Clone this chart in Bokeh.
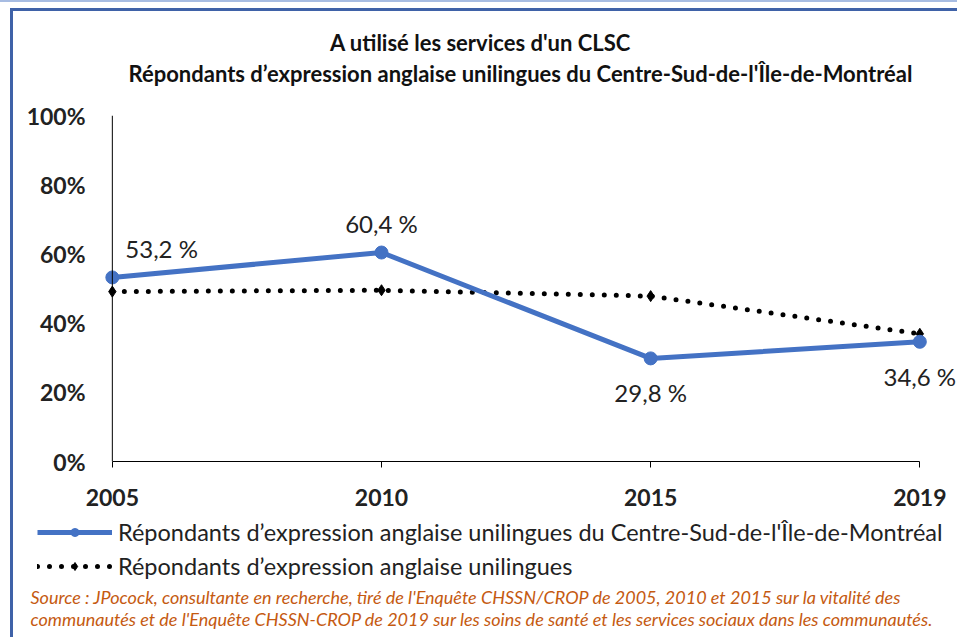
from bokeh.plotting import figure
from bokeh.layouts import column
from bokeh.models import (ColumnDataSource, LabelSet, Legend, LegendItem, Label,
                          FixedTicker, Span, Range1d)
from bokeh.core.properties import value
from bokeh.embed import file_html
from bokeh.resources import INLINE

years = ["2005", "2010", "2015", "2019"]
centre_sud = [53.2, 60.4, 29.8, 34.6]
unilingues = [49.1, 49.5, 47.8, 36.9]
centre_sud_labels = ["53,2 %", "60,4 %", "29,8 %", "34,6 %"]
y_ticks = [0, 20, 40, 60, 80, 100]
y_tick_labels = ["0%", "20%", "40%", "60%", "80%", "100%"]

title1 = "A utilisé les services d'un CLSC"
title2 = "Répondants d’expression anglaise unilingues du Centre-Sud-de-l'Île-de-Montréal"
legend1 = "Répondants d’expression anglaise unilingues du Centre-Sud-de-l'Île-de-Montréal"
legend2 = "Répondants d’expression anglaise unilingues"
source1 = "Source : JPocock, consultante en recherche, tiré de l'Enquête CHSSN/CROP de 2005, 2010 et 2015 sur la vitalité des"
source2 = "communautés et de l'Enquête CHSSN-CROP de 2019 sur les soins de santé et les services sociaux dans les communautés."

FONT = "Lato"
BLUE = "#4472C4"
TXT = "#222222"
W = 944


def blank(fig):
    fig.grid.visible = False
    fig.outline_line_color = None
    fig.background_fill_color = "white"
    fig.border_fill_color = "white"
    fig.frame_align = False


xs = list(range(len(years)))
src = ColumnDataSource(dict(x=xs, a=centre_sud, b=unilingues, lab=centre_sud_labels,
                            dx=[13, 0, 0, 0], dy=[29, 29, -34, -35],
                            al=["left", "center", "center", "center"]))

# ---------------- title band ----------------
t = figure(width=W, height=89, output_backend="svg", toolbar_location=None,
           x_range=Range1d(0, 1), y_range=Range1d(0, 1),
           x_axis_location=None, y_axis_location=None,
           min_border_left=0, min_border_right=0, min_border_top=0, min_border_bottom=0)
blank(t)
for txt, xx, yy in zip([title1, title2], [467, 507], [58, 27]):
    t.add_layout(Label(x=xx, y=yy, x_units="screen", y_units="screen", text=txt,
                       text_font=FONT, text_font_style="bold", text_font_size="22px",
                       text_color="#111111", text_align="center", text_baseline="middle"))

# ---------------- main chart ----------------
p = figure(width=W, height=418, output_backend="svg", toolbar_location=None,
           x_range=Range1d(-0.07, 3.14), y_range=Range1d(0, 100),
           min_border_left=80, min_border_right=0, min_border_top=15, min_border_bottom=57)
blank(p)

yax = p.yaxis[0]
yax.ticker = FixedTicker(ticks=y_ticks)
yax.major_label_overrides = {tk: lb for tk, lb in zip(y_ticks, y_tick_labels)}
yax.major_tick_out = 0
yax.major_tick_in = 0
yax.minor_tick_out = 0
yax.minor_tick_in = 0
yax.axis_line_color = None
yax.major_label_text_font = FONT
yax.major_label_text_font_style = "bold"
yax.major_label_text_font_size = "23px"
yax.major_label_text_color = TXT
yax.major_label_standoff = 8
p.add_layout(Span(location=0, dimension="height", line_color="black", line_width=1))

xax = p.xaxis[0]
xax.bounds = (0, 3)
xax.ticker = FixedTicker(ticks=xs)
xax.major_label_overrides = {i: y for i, y in zip(xs, years)}
xax.major_tick_out = 6
xax.major_tick_in = 0
xax.minor_tick_out = 0
xax.minor_tick_in = 0
xax.axis_line_color = "black"
xax.major_tick_line_color = "black"
xax.major_label_text_font = FONT
xax.major_label_text_font_style = "bold"
xax.major_label_text_font_size = "23px"
xax.major_label_text_color = TXT
xax.major_label_standoff = 21

p.line("x", "b", source=src, line_color="black", line_width=5, line_dash="0 12", line_cap="round")
p.scatter("x", "b", source=src, marker="diamond", size=11, color="black")
p.line("x", "a", source=src, line_color=BLUE, line_width=5)
p.scatter("x", "a", source=src, marker="circle", size=13, color=BLUE)

p.add_layout(LabelSet(x="x", y="a", text="lab", source=src, x_offset="dx", y_offset="dy",
                      text_align="al", text_baseline="middle",
                      text_font=value(FONT), text_font_size="24px", text_color=TXT))

# ---------------- legend + source ----------------
q = figure(width=W, height=119, output_backend="svg", toolbar_location=None,
           x_range=Range1d(10, 11), y_range=Range1d(0, 100),
           x_axis_location=None, y_axis_location=None,
           min_border_left=0, min_border_right=0, min_border_top=0, min_border_bottom=0)
blank(q)

l2 = q.line("x", "b", source=src, line_color="black", line_width=5, line_dash="0 12", line_cap="round")
m2 = q.scatter("x", "b", source=src, marker="diamond", size=11, color="black")
l1 = q.line("x", "a", source=src, line_color=BLUE, line_width=5)
m1 = q.scatter("x", "a", source=src, marker="circle", size=13, color=BLUE)

legend = Legend(items=[LegendItem(label=legend1, renderers=[l1, m1]),
                       LegendItem(label=legend2, renderers=[l2, m2])],
                orientation="vertical", location=(24, 57),
                glyph_width=75, glyph_height=20, label_text_font=FONT,
                label_text_font_size="23.5px", label_text_color=TXT,
                border_line_color=None, background_fill_alpha=0,
                padding=0, spacing=6, margin=0, label_standoff=6)
q.add_layout(legend)

for txt, yy in zip([source1, source2], [41, 19]):
    q.add_layout(Label(x=17, y=yy, x_units="screen", y_units="screen", text=txt,
                       text_font=FONT, text_font_style="italic", text_font_size="18px",
                       text_color="#C55A11", text_baseline="middle", text_align="left"))

inner = column(t, p, q, spacing=0,
               styles={"margin-left": "10px", "margin-top": "6px",
                       "border-left": "3px solid #3F62A8", "border-top": "3px solid #3F62A8"})
layout = column(inner, spacing=0, styles={"border-top": "2px solid #A7BCE2"})

open("out.html", "w").write(file_html(layout, INLINE))
